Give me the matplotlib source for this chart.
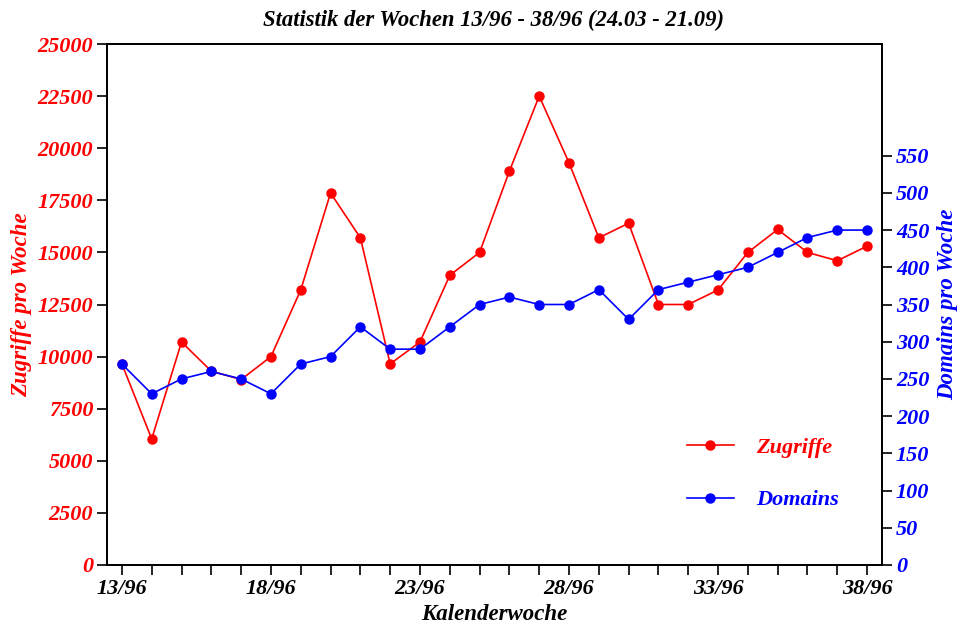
import matplotlib
matplotlib.use("Agg")
import matplotlib.pyplot as plt
import numpy as np

weeks = list(range(13, 39))
zugriffe = [9650, 6050, 10700, 9300, 8900, 10000, 13200, 17850, 15700, 9650,
            10700, 13900, 15000, 18900, 22500, 19300, 15700, 16400, 12500, 12500,
            13200, 15000, 16100, 15000, 14600, 15300]
domains = [270, 230, 250, 260, 250, 230, 270, 280, 320, 290,
           290, 320, 350, 360, 350, 350, 370, 330, 370, 380,
           390, 400, 420, 440, 450, 450]
xtick_weeks = [13, 18, 23, 28, 33, 38]
xtick_labels = ["13/96", "18/96", "23/96", "28/96", "33/96", "38/96"]
left_ticks = list(range(0, 25001, 2500))
right_ticks = list(range(0, 551, 50))

plt.rcParams['font.family'] = ['Liberation Serif', 'DejaVu Serif']
fw = dict(fontweight='bold', fontstyle='italic')

fig = plt.figure(figsize=(9.6, 6.24), dpi=100)
ax = fig.add_axes([107/960, 1-565/624, (882-107)/960, (565-44)/624])
ax2 = ax.twinx()

l1, = ax.plot(weeks, zugriffe, color='#ff0000', lw=1.2, marker='o', ms=6.5, label='Zugriffe')
l2, = ax2.plot(weeks, domains, color='#0000ff', lw=1.2, marker='o', ms=6.5, label='Domains')

ax.set_xlim(12.5, 38.5)
ax.set_ylim(0, 25000)
ax2.set_ylim(0, 700)

ax.set_xticks(weeks, minor=False)
ax.set_xticklabels([xtick_labels[xtick_weeks.index(w)] if w in xtick_weeks else "" for w in weeks])
ax.set_yticks(left_ticks)
ax.set_yticklabels([str(v) for v in left_ticks])
ax2.set_yticks(right_ticks)
ax2.set_yticklabels([str(v) for v in right_ticks])

for a in (ax, ax2):
    for s in a.spines.values():
        s.set_linewidth(1.3)
    a.tick_params(direction='out', length=7, width=1.2)

for lab in ax.get_yticklabels():
    lab.set_color('#ff0000'); lab.set_fontsize(16); lab.set_fontweight('bold'); lab.set_fontstyle('italic')
for lab in ax2.get_yticklabels():
    lab.set_color('#0000ff'); lab.set_fontsize(16); lab.set_fontweight('bold'); lab.set_fontstyle('italic')
for lab in ax.get_xticklabels():
    lab.set_fontsize(16); lab.set_fontweight('bold'); lab.set_fontstyle('italic')
ax.tick_params(axis='x', pad=3)
ax.tick_params(axis='y', pad=3)
ax2.tick_params(axis='y', pad=3)

ax.set_ylabel('Zugriffe pro Woche', color='#ff0000', fontsize=16.5, labelpad=4, **fw)
ax2.set_ylabel('Domains pro Woche', color='#0000ff', fontsize=16.5, labelpad=6, **fw)
ax.set_xlabel('Kalenderwoche', fontsize=16.5, labelpad=4, **fw)
fig.text(494/960, 1-20/624, 'Statistik der Wochen 13/96 - 38/96 (24.03 - 21.09)',
         ha='center', va='center', fontsize=16.3, **fw)

leg = ax2.legend([l1, l2], ['Zugriffe', 'Domains'], frameon=False,
                 loc='upper left', bbox_to_anchor=(667/960, 1-417/624),
                 bbox_transform=fig.transFigure,
                 prop=dict(family='Liberation Serif', weight='bold', style='italic', size=16),
                 handlelength=2.1, handletextpad=1.0, labelspacing=1.45)
leg.get_texts()[0].set_color('#ff0000')
leg.get_texts()[1].set_color('#0000ff')

fig.savefig('out.png', dpi=100)
